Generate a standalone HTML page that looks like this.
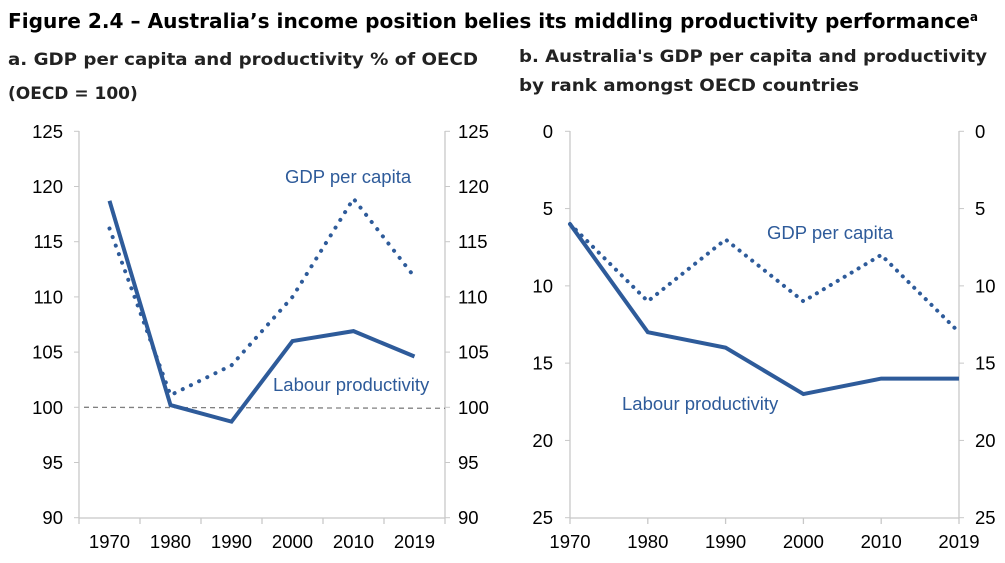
<!DOCTYPE html>
<html><head><meta charset="utf-8"><style>
body{margin:0;background:#fff;width:1005px;height:563px;overflow:hidden;font-family:"Liberation Sans",Arial,sans-serif}
svg{position:absolute;left:0;top:0}
</style></head><body>
<svg width="1005" height="563" font-family="Liberation Sans, Arial, sans-serif">
<text x="8" y="28" font-size="20" font-weight="bold" fill="#000" font-family="DejaVu Sans, sans-serif" textLength="970" lengthAdjust="spacingAndGlyphs">Figure 2.4 – Australia’s income position belies its middling productivity performance<tspan font-size="12" dy="-7">a</tspan></text>
<text x="8" y="65" font-size="17" font-weight="bold" fill="#222" font-family="DejaVu Sans, sans-serif" textLength="470" lengthAdjust="spacingAndGlyphs">a. GDP per capita and productivity % of OECD</text>
<text x="8" y="99" font-size="17" font-weight="bold" fill="#222" font-family="DejaVu Sans, sans-serif">(OECD = 100)</text>
<text x="519" y="62" font-size="17" font-weight="bold" fill="#222" font-family="DejaVu Sans, sans-serif" textLength="468" lengthAdjust="spacingAndGlyphs">b. Australia's GDP per capita and productivity</text>
<text x="519" y="91" font-size="17" font-weight="bold" fill="#222" font-family="DejaVu Sans, sans-serif" textLength="340" lengthAdjust="spacingAndGlyphs">by rank amongst OECD countries</text>
<g id="ca"></g>
<g id="cb"></g>
</svg>
<script>
const years=["1970","1980","1990","2000","2010","2019"];
const aLabour=[118.7,100.2,98.7,106,106.9,104.6];
const aGdp=[116.2,101.1,103.8,110,118.9,111.8];
const aTicks=[90,95,100,105,110,115,120,125];
const bLabour=[6,13,14,17,16,16];
const bGdp=[6,11,7,11,8,13];
const bTicks=[0,5,10,15,20,25];
const NS="http://www.w3.org/2000/svg";
const C="#2E5B9A";
const FS=18.5;
function mk(p,t,a){const e=document.createElementNS(NS,t);for(const k in a)e.setAttribute(k,a[k]);p.appendChild(e);return e;}
function yA(v){return 131.3+(125-v)/35*386.4;}
function yB(v){return 131.3+v/25*386.4;}
const ga=document.getElementById('ca');
const aL=79,aR=445,bw=(aR-aL)/6;
function xA(i){return aL+bw*(i+0.5);}
let e;
e=mk(ga,'line',{x1:aL,y1:131,x2:aL,y2:518,stroke:'#c8c8c8','stroke-width':1.3});

e=mk(ga,'line',{x1:aR,y1:131,x2:aR,y2:518,stroke:'#c8c8c8','stroke-width':1.3});

e=mk(ga,'line',{x1:aL,y1:518,x2:aR,y2:518,stroke:'#c8c8c8','stroke-width':1.3});

for(let k=0;k<=6;k++){mk(ga,'line',{x1:aL+bw*k,y1:518,x2:aL+bw*k,y2:524,stroke:'#c8c8c8','stroke-width':1.3});}
aTicks.forEach(v=>{const y=yA(v);
mk(ga,'line',{x1:aL-5,y1:y,x2:aL,y2:y,stroke:'#c8c8c8'});
mk(ga,'line',{x1:aR,y1:y,x2:aR+5,y2:y,stroke:'#c8c8c8'});
e=mk(ga,'text',{x:63,y:y+6.5,'font-size':FS,'text-anchor':'end'});e.textContent=v;

e=mk(ga,'text',{x:458,y:y+6.5,'font-size':FS});e.textContent=v;
});
years.forEach((t,i)=>{e=mk(ga,'text',{x:xA(i),y:548,'font-size':FS,'text-anchor':'middle'});e.textContent=t;
});
e=mk(ga,'line',{x1:84,y1:yA(100),x2:aR,y2:yA(100)+1,stroke:'#808080','stroke-width':1.3,'stroke-dasharray':'5,4'});

e=mk(ga,'polyline',{points:aGdp.map((v,i)=>xA(i)+','+yA(v)).join(' '),fill:'none',stroke:C,'stroke-width':4,'stroke-dasharray':'0.1,9','stroke-linecap':'round'});

e=mk(ga,'polyline',{points:aLabour.map((v,i)=>xA(i)+','+yA(v)).join(' '),fill:'none',stroke:C,'stroke-width':4});

e=mk(ga,'text',{x:285,y:183,'font-size':FS,fill:C});e.textContent='GDP per capita';

e=mk(ga,'text',{x:273,y:391,'font-size':FS,fill:C});e.textContent='Labour productivity';

const gb=document.getElementById('cb');
const bL=570,bR=959,st=(bR-bL)/5;
function xB(i){return bL+st*i;}
e=mk(gb,'line',{x1:bL,y1:131,x2:bL,y2:518,stroke:'#c8c8c8','stroke-width':1.3});

e=mk(gb,'line',{x1:bR,y1:131,x2:bR,y2:518,stroke:'#c8c8c8','stroke-width':1.3});

e=mk(gb,'line',{x1:bL,y1:518,x2:bR,y2:518,stroke:'#c8c8c8','stroke-width':1.3});

years.forEach((t,i)=>{mk(gb,'line',{x1:xB(i),y1:518,x2:xB(i),y2:524,stroke:'#c8c8c8','stroke-width':1.3});
e=mk(gb,'text',{x:xB(i),y:548,'font-size':FS,'text-anchor':'middle'});e.textContent=t;
});
bTicks.forEach(v=>{const y=yB(v);
mk(gb,'line',{x1:bL-5,y1:y,x2:bL,y2:y,stroke:'#c8c8c8'});
mk(gb,'line',{x1:bR,y1:y,x2:bR+5,y2:y,stroke:'#c8c8c8'});
e=mk(gb,'text',{x:553,y:y+6.5,'font-size':FS,'text-anchor':'end'});e.textContent=v;

e=mk(gb,'text',{x:975,y:y+6.5,'font-size':FS});e.textContent=v;
});
e=mk(gb,'polyline',{points:bGdp.map((v,i)=>xB(i)+','+yB(v)).join(' '),fill:'none',stroke:C,'stroke-width':4,'stroke-dasharray':'0.1,8','stroke-linecap':'round'});

e=mk(gb,'polyline',{points:bLabour.map((v,i)=>xB(i)+','+yB(v)).join(' '),fill:'none',stroke:C,'stroke-width':4});

e=mk(gb,'text',{x:767,y:239,'font-size':FS,fill:C});e.textContent='GDP per capita';

e=mk(gb,'text',{x:622,y:410,'font-size':FS,fill:C});e.textContent='Labour productivity';

</script>
</body></html>
